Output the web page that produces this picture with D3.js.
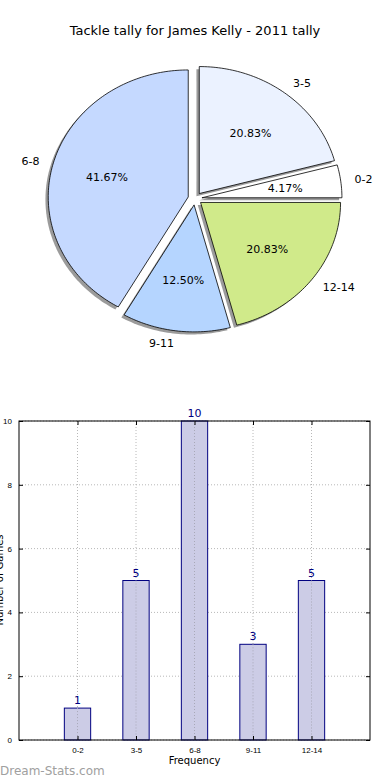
<!DOCTYPE html>
<html>
<head>
<meta charset="utf-8">
<script src="https://cdn.jsdelivr.net/npm/d3@7"></script>
<style>
  body { margin: 0; background: #fff; }
  svg { display: block; font-family: "DejaVu Sans", sans-serif; }
</style>
</head>
<body>
<svg id="chart" width="390" height="780"></svg>
<script>
// data
const categories = ["0-2", "3-5", "6-8", "9-11", "12-14"]
const counts = [1, 5, 10, 3, 5]
const sliceColors = ["#ffffff", "#ebf2ff", "#c5d9ff", "#b5d5ff", "#d0ea8a"]
const yTicks = [0, 2, 4, 6, 8, 10]

const svg = d3.select("#chart")

svg.append("text")
    .attr("x", 195).attr("y", 35)
    .attr("text-anchor", "middle")
    .style("font-size", "13px")
    .text("Tackle tally for James Kelly - 2011 tally")

// ---- pie (matplotlib style: starts at 3 o'clock, counter-clockwise, exploded)
const cx = 195, cy = 198.6, rx = 140, ry = 127, explode = 0.05
const total = d3.sum(counts)

// d3.pie gives us the angular spans, we read them as ccw from +x
const pie = d3.pie().sort(null).startAngle(0).endAngle(2 * Math.PI)
const arcs = pie(counts)

// turn a math angle (radians, ccw from +x) into a point on the ellipse
function pt(ox, oy, r, a){
    return [ox + r * rx * Math.cos(a), oy - r * ry * Math.sin(a)]
}

function wedgePath(ox, oy, a0, a1){
    let n = Math.max(8, Math.ceil((a1 - a0) / 0.02))
    let pts = d3.range(n + 1).map(i => pt(ox, oy, 1, a0 + (a1 - a0) * i / n))
    return "M" + ox + "," + oy + "L" + pts.map(p => p.join(",")).join("L") + "Z"
}

const slices = arcs.map((d, i) => {
    let a0 = d.startAngle, a1 = d.endAngle
    let mid = (a0 + a1) / 2
    let [ox, oy] = pt(cx, cy, explode, mid)
    return {i, a0, a1, mid, ox, oy}
})

const pieG = svg.append("g")

// shadows first
pieG.selectAll("path.shadow")
    .data(slices)
    .enter().append("path")
    .attr("class", "shadow")
    .attr("d", s => wedgePath(s.ox - 2.8, s.oy + 2.6, s.a0, s.a1))
    .attr("fill", "#7a7a7a")
    .attr("opacity", 0.75)

pieG.selectAll("path.slice")
    .data(slices)
    .enter().append("path")
    .attr("class", "slice")
    .attr("d", s => wedgePath(s.ox, s.oy, s.a0, s.a1))
    .attr("fill", s => sliceColors[s.i])
    .attr("stroke", "#000")
    .attr("stroke-width", 0.8)
    .attr("stroke-linejoin", "round")

// category labels at 1.1 radius
pieG.selectAll("text.lab")
    .data(slices)
    .enter().append("text")
    .attr("x", s => pt(s.ox, s.oy, 1.1, s.mid)[0])
    .attr("y", s => pt(s.ox, s.oy, 1.1, s.mid)[1])
    .attr("dy", "0.35em")
    .attr("text-anchor", s => Math.cos(s.mid) > 0 ? "start" : "end")
    .style("font-size", "11px")
    .text(s => categories[s.i])

// percentages at 0.6 radius
pieG.selectAll("text.pct")
    .data(slices)
    .enter().append("text")
    .attr("x", s => pt(s.ox, s.oy, 0.6, s.mid)[0])
    .attr("y", s => pt(s.ox, s.oy, 0.6, s.mid)[1])
    .attr("dy", "0.35em")
    .attr("text-anchor", "middle")
    .style("font-size", "11px")
    .text(s => (counts[s.i] / total * 100).toFixed(2) + "%")

// ---- bar chart
const pLeft = 19, pRight = 370, pTop = 421, pBottom = 740

const x = d3.scaleLinear().domain([-1, 5]).range([pLeft, pRight])
const y = d3.scaleLinear().domain([0, 10]).range([pBottom, pTop])
const barW = x(0.45) - x(0)

const barG = svg.append("g")

// dotted grid
barG.selectAll("line.gx")
    .data(categories)
    .enter().append("line")
    .attr("x1", (d, i) => x(i)).attr("x2", (d, i) => x(i))
    .attr("y1", pTop).attr("y2", pBottom)
    .attr("stroke", "#b8b8b8").attr("stroke-dasharray", "1,2")

barG.selectAll("line.gy")
    .data(yTicks)
    .enter().append("line")
    .attr("x1", pLeft).attr("x2", pRight)
    .attr("y1", d => y(d)).attr("y2", d => y(d))
    .attr("stroke", "#b8b8b8").attr("stroke-dasharray", "1,2")

barG.selectAll("rect.bar")
    .data(counts)
    .enter().append("rect")
    .attr("x", (d, i) => x(i) - barW / 2)
    .attr("y", d => y(d))
    .attr("width", barW)
    .attr("height", d => pBottom - y(d))
    .attr("fill", "#cccce6")
    .attr("stroke", "#000080")
    .attr("stroke-width", 1)

// grid shows through the bars in the original
barG.selectAll("line.gx2")
    .data(categories)
    .enter().append("line")
    .attr("x1", (d, i) => x(i)).attr("x2", (d, i) => x(i))
    .attr("y1", (d, i) => y(counts[i])).attr("y2", pBottom)
    .attr("stroke", "#a8a8b8").attr("stroke-dasharray", "1,2")

barG.selectAll("text.val")
    .data(counts)
    .enter().append("text")
    .attr("x", (d, i) => x(i))
    .attr("y", d => y(d) - 4)
    .attr("text-anchor", "middle")
    .attr("fill", "#000080")
    .style("font-size", "11px")
    .text(d => d)

// frame
barG.append("rect")
    .attr("x", pLeft).attr("y", pTop)
    .attr("width", pRight - pLeft).attr("height", pBottom - pTop)
    .attr("fill", "none").attr("stroke", "#000").attr("stroke-width", 1)

// axes: inward ticks on both sides like matplotlib
const yAxis = d3.axisLeft(y).tickValues(yTicks).tickSizeInner(-4).tickSizeOuter(0).tickPadding(7)
barG.append("g").attr("transform", `translate(${pLeft},0)`).call(yAxis)
const yAxisR = d3.axisRight(y).tickValues(yTicks).tickSizeInner(-4).tickSizeOuter(0).tickFormat("")
barG.append("g").attr("transform", `translate(${pRight},0)`).call(yAxisR)

const xAxis = d3.axisBottom(x).tickValues(d3.range(categories.length))
    .tickFormat(i => categories[i]).tickSizeInner(-4).tickSizeOuter(0).tickPadding(7)
barG.append("g").attr("transform", `translate(0,${pBottom})`).call(xAxis)
const xAxisT = d3.axisTop(x).tickValues(d3.range(categories.length))
    .tickSizeInner(-4).tickSizeOuter(0).tickFormat("")
barG.append("g").attr("transform", `translate(0,${pTop})`).call(xAxisT)

barG.selectAll(".domain").remove()
barG.selectAll(".tick text").style("font-size", "8px").attr("fill", "#000")
barG.selectAll(".tick line").attr("stroke", "#000")

svg.append("text")
    .attr("x", x(2)).attr("y", 764)
    .attr("text-anchor", "middle")
    .style("font-size", "10px")
    .text("Frequency")

// y label sits mostly off the left edge, as in the original
svg.append("text")
    .attr("transform", "translate(3,580) rotate(-90)")
    .attr("text-anchor", "middle")
    .style("font-size", "10px")
    .text("Number of Games")

svg.append("text")
    .attr("x", 0).attr("y", 775)
    .attr("fill", "#a0a0a0")
    .style("font-size", "12px")
    .text("Dream-Stats.com")
</script>
</body>
</html>
